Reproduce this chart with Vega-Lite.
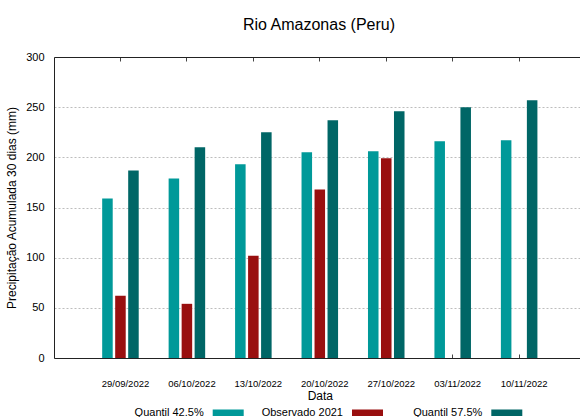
{
  "$schema": "https://vega.github.io/schema/vega-lite/v6.json",
  "autosize": {"type": "none"},
  "padding": {"left": 54, "top": 57, "right": 0, "bottom": 59},
  "width": 526,
  "height": 301,
  "title": {"text": "Rio Amazonas (Peru)", "fontSize": 16, "fontWeight": "normal", "font": "Liberation Sans", "color": "#000000", "anchor": "middle", "baseline": "alphabetic", "offset": 5, "dx": 2},
  "config": {
    "font": "Liberation Sans",
    "view": {"stroke": null},
    "axis": {"labelFont": "Liberation Sans", "titleFont": "Liberation Sans", "labelColor": "#000000", "titleColor": "#000000", "titleFontWeight": "normal", "domainColor": "#222222", "tickColor": "#444444"}
  },
  "data": {"values": [
    {"date": "29/09/2022", "serie": "Quantil 42.5%", "value": 159},
    {"date": "29/09/2022", "serie": "Observado 2021", "value": 62},
    {"date": "29/09/2022", "serie": "Quantil 57.5%", "value": 187},
    {"date": "06/10/2022", "serie": "Quantil 42.5%", "value": 179},
    {"date": "06/10/2022", "serie": "Observado 2021", "value": 54},
    {"date": "06/10/2022", "serie": "Quantil 57.5%", "value": 210},
    {"date": "13/10/2022", "serie": "Quantil 42.5%", "value": 193},
    {"date": "13/10/2022", "serie": "Observado 2021", "value": 102},
    {"date": "13/10/2022", "serie": "Quantil 57.5%", "value": 225},
    {"date": "20/10/2022", "serie": "Quantil 42.5%", "value": 205},
    {"date": "20/10/2022", "serie": "Observado 2021", "value": 168},
    {"date": "20/10/2022", "serie": "Quantil 57.5%", "value": 237},
    {"date": "27/10/2022", "serie": "Quantil 42.5%", "value": 206},
    {"date": "27/10/2022", "serie": "Observado 2021", "value": 199},
    {"date": "27/10/2022", "serie": "Quantil 57.5%", "value": 246},
    {"date": "03/11/2022", "serie": "Quantil 42.5%", "value": 216},
    {"date": "03/11/2022", "serie": "Quantil 57.5%", "value": 250},
    {"date": "10/11/2022", "serie": "Quantil 42.5%", "value": 217},
    {"date": "10/11/2022", "serie": "Quantil 57.5%", "value": 257}
  ]},
  "layer": [
    {
      "mark": {"type": "bar"},
      "encoding": {
        "x": {"field": "date", "type": "nominal", "sort": null,
          "scale": {"range": [0, 531.6], "paddingInner": 0.413, "paddingOuter": 0.7065},
          "axis": {"orient": "bottom", "title": "Data", "titleFontSize": 12, "titlePadding": 3, "labelFontSize": 9.5, "labelAngle": 0, "labelOffset": 5, "tickSize": -4, "labelPadding": 24, "domainColor": "#222222"}},
        "xOffset": {"field": "serie", "type": "nominal",
          "scale": {"domain": ["Quantil 42.5%", "Observado 2021", "Quantil 57.5%"], "paddingInner": 0.19, "paddingOuter": 0.095}},
        "y": {"field": "value", "type": "quantitative",
          "scale": {"domain": [0, 300], "nice": false},
          "axis": {"title": "Precipitação Acumulada 30 dias (mm)", "titleFontSize": 12, "titlePadding": 7, "labelFontSize": 11, "labelPadding": 10, "ticks": false, "values": [0, 50, 100, 150, 200, 250, 300], "grid": true, "gridColor": "#bdbdbd", "gridDash": [2, 2], "gridWidth": 1, "domainColor": "#222222"}},
        "color": {"field": "serie", "type": "nominal",
          "scale": {"domain": ["Quantil 42.5%", "Observado 2021", "Quantil 57.5%"], "range": ["#009999", "#990f0f", "#006666"]},
          "legend": {"title": null, "orient": "none", "direction": "horizontal", "legendX": 158.7, "legendY": 340,
            "symbolType": "M-7.5,0M-1,-0.21H1V0.21H-1Z", "symbolSize": 961, "symbolStrokeWidth": 0,
            "labelFontSize": 11, "labelColor": "#000000", "labelAlign": "right", "labelOffset": -40, "columnPadding": 7.3}}
      }
    },
    {
      "mark": {"type": "rule", "strokeOpacity": 0},
      "encoding": {
        "x": {"field": "date", "type": "nominal", "sort": null,
          "axis": {"orient": "top", "title": null, "labels": false, "tickSize": -4, "domainColor": "#222222"}},
        "y": {"datum": 0, "type": "quantitative"}
      }
    }
  ],
  "resolve": {"axis": {"x": "independent"}}
}
